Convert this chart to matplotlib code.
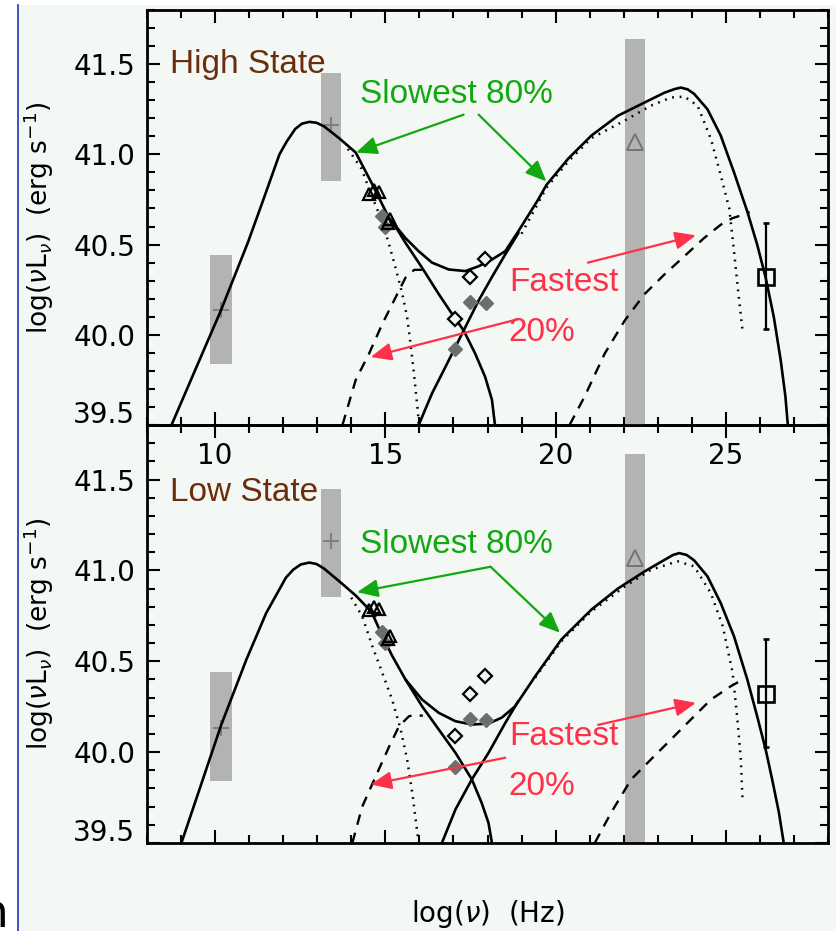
import matplotlib
matplotlib.use('Agg')
import matplotlib.pyplot as plt
from matplotlib.patches import Rectangle
from matplotlib.lines import Line2D
from matplotlib.ticker import MultipleLocator, FormatStrFormatter

plt.rcParams['mathtext.fontset'] = 'dejavusans'
plt.rcParams['font.family'] = ['DejaVu Sans']

# ---------------- data ----------------
# High state curves
top_total_x = [8.72, 9.45, 10.16, 10.96, 11.40, 11.89, 12.10, 12.35, 12.55, 12.77, 12.98, 13.20, 13.64, 14.13,
               14.60, 15.10, 15.59, 15.98, 16.37, 16.86, 17.35, 17.74, 18.13, 18.52, 18.91, 19.49, 19.73,
               20.37, 21.05, 21.83, 22.61, 23.20, 23.50, 23.68, 23.88, 24.07, 24.46, 24.85, 25.24, 25.63, 25.92,
               26.17, 26.41, 26.61, 26.75, 26.82]
top_total_y = [39.50, 39.82, 40.13, 40.51, 40.74, 41.00, 41.07, 41.14, 41.17, 41.18, 41.175, 41.155, 41.09, 41.01,
               40.84, 40.65, 40.536, 40.463, 40.40, 40.362, 40.353, 40.38, 40.417, 40.463, 40.575, 40.75, 40.83,
               40.976, 41.104, 41.214, 41.287, 41.342, 41.362, 41.37, 41.36, 41.335, 41.25, 41.104, 40.90, 40.683,
               40.50, 40.316, 40.097, 39.86, 39.657, 39.50]
top_sync_tail_x = [15.20, 15.59, 16.08, 16.57, 16.96, 17.30, 17.64, 17.93, 18.13, 18.22]
top_sync_tail_y = [40.63, 40.51, 40.371, 40.225, 40.115, 40.024, 39.895, 39.767, 39.64, 39.50]
top_ic_rise_x = [15.98, 16.37, 16.76, 17.30, 17.74, 18.13, 18.52, 18.91]
top_ic_rise_y = [39.50, 39.675, 39.82, 40.024, 40.19, 40.32, 40.445, 40.565]
top_dot_sync_x = [13.90, 14.30, 14.62, 14.91, 15.11, 15.30, 15.50, 15.64, 15.74, 15.84, 15.96, 15.98]
top_dot_sync_y = [41.03, 40.92, 40.76, 40.628, 40.50, 40.371, 40.225, 40.097, 39.95, 39.785, 39.565, 39.50]
top_dot_ic_x = [19.00, 19.73, 20.37, 21.05, 22.03, 22.80, 23.39, 23.78, 24.17, 24.56, 24.85, 25.10,
                25.24, 25.36, 25.49]
top_dot_ic_y = [40.56, 40.815, 40.96, 41.09, 41.187, 41.27, 41.315, 41.32, 41.27, 41.086, 40.884, 40.70,
                40.463, 40.243, 40.024]
top_dash_sync_x = [13.74, 14.13, 14.52, 14.91, 15.30, 15.59, 15.85, 16.10]
top_dash_sync_y = [39.50, 39.75, 39.895, 40.06, 40.207, 40.316, 40.36, 40.36]
top_dash_ic_x = [20.41, 20.85, 21.44, 22.03, 22.61, 23.20, 23.78, 24.36, 24.85, 25.19, 25.50, 25.70]
top_dash_ic_y = [39.50, 39.657, 39.895, 40.079, 40.225, 40.335, 40.435, 40.536, 40.61, 40.646, 40.665, 40.68]

# Low state curves
bot_total_x = [9.01, 10.18, 10.92, 11.50, 12.08, 12.30, 12.52, 12.77, 12.98, 13.20, 13.71, 14.14, 14.60, 14.91,
               15.20, 15.59, 16.08, 16.57, 17.06, 17.54, 18.03, 18.42, 18.81, 19.40, 20.17, 21.05, 21.83, 22.61,
               23.20, 23.45, 23.63, 23.85, 24.07, 24.46, 24.85, 25.24, 25.63, 25.92, 26.17, 26.36, 26.56, 26.70]
bot_total_y = [39.50, 40.15, 40.51, 40.765, 40.96, 41.005, 41.033, 41.043, 41.035, 41.01, 40.93, 40.86, 40.77,
               40.64, 40.53, 40.40, 40.289, 40.216, 40.17, 40.152, 40.157, 40.19, 40.252, 40.417, 40.62, 40.784,
               40.90, 40.994, 41.058, 41.085, 41.095, 41.085, 41.055, 40.967, 40.82, 40.637, 40.40, 40.197,
               40.014, 39.85, 39.666, 39.50]
bot_sync_tail_x = [15.59, 16.08, 16.57, 17.06, 17.54, 17.83, 18.03, 18.13]
bot_sync_tail_y = [40.40, 40.252, 40.124, 39.996, 39.85, 39.72, 39.61, 39.50]
bot_ic_rise_x = [16.66, 17.06, 17.54, 18.03, 18.52, 18.90]
bot_ic_rise_y = [39.50, 39.685, 39.85, 39.996, 40.16, 40.28]
bot_dot_sync_x = [14.00, 14.32, 14.62, 14.91, 15.20, 15.45, 15.64, 15.79, 15.94, 15.97]
bot_dot_sync_y = [40.85, 40.747, 40.582, 40.436, 40.289, 40.124, 39.96, 39.776, 39.557, 39.50]
bot_dot_ic_x = [19.40, 20.17, 21.05, 22.03, 22.80, 23.58, 24.07, 24.56, 24.91, 25.20, 25.34, 25.44, 25.49]
bot_dot_ic_y = [40.41, 40.61, 40.774, 40.911, 41.003, 41.05, 41.022, 40.875, 40.692, 40.436, 40.179, 39.96, 39.74]
bot_dash_sync_x = [14.03, 14.32, 14.72, 15.11, 15.40, 15.69, 15.85, 16.10]
bot_dash_sync_y = [39.50, 39.70, 39.868, 40.03, 40.142, 40.197, 40.205, 40.20]
bot_dash_ic_x = [21.15, 21.63, 22.22, 22.80, 23.39, 23.97, 24.56, 25.14, 25.50]
bot_dash_ic_y = [39.50, 39.667, 39.85, 39.96, 40.07, 40.179, 40.289, 40.362, 40.40]

# observed data (same in both panels)
tri_x = [14.52, 14.68, 14.81, 15.08, 15.13]
tri_y = [40.78, 40.80, 40.79, 40.62, 40.64]
gdia_opt_x = [14.90, 14.99]
gdia_opt_y = [40.66, 40.60]
odia_x = [17.06, 17.50, 17.94]
odia_y = [40.09, 40.32, 40.42]
gdia_x = [17.06, 17.50, 17.95]
gdia_y = [39.92, 40.18, 40.175]
sq_x = [26.17]
sq_y = [40.32]
sq_lo = [40.03]
sq_hi = [40.62]
# grey bands (x0, x1, y0, y1) and their central markers
band_x0 = [9.84, 13.12, 22.04]
band_x1 = [10.49, 13.70, 22.62]
band_y0 = [39.84, 40.855, 39.50]
band_y1 = [40.44, 41.45, 41.64]
plus_x = [10.16, 13.41]
plus_y = [40.135, 41.16]
gtri_x = [22.33]
gtri_y = [41.07]

x_ticks = [10, 15, 20, 25]
y_ticks = [39.5, 40.0, 40.5, 41.0, 41.5]

# annotations (data coordinates)
top_state = ('High State', 8.67, 41.50)
bot_state = ('Low State', 8.67, 41.43)
top_slow_txt = (17.09, 41.33)
bot_slow_txt = (17.09, 41.14)
top_fast_txt = (20.25, 40.29)
top_20_txt = (19.59, 40.015)
bot_fast_txt = (20.25, 40.086)
bot_20_txt = (19.59, 39.81)
top_green = [((17.30, 41.22), (14.14, 41.01)), ((17.74, 41.22), (19.73, 40.85))]
bot_green = [((18.09, 41.02), (14.17, 40.88)), ((18.09, 41.02), (20.13, 40.657))]
top_red = [((20.95, 40.40), (24.12, 40.551)), ((18.91, 40.087), (14.57, 39.877))]
bot_red = [((21.25, 40.15), (24.12, 40.271)), ((18.52, 39.969), (14.57, 39.822))]

# ---------------- figure ----------------
W, H = 836, 931
BG = '#f4f8f4'
GREEN = '#12a812'
RED = '#ff3049'
BROWN = '#6a2e0e'
LW = 1.9

fig = plt.figure(figsize=(W / 100, H / 100), dpi=100)
fig.patch.set_facecolor('white')
fig.add_artist(Rectangle((18 / W, 0), 1, (H - 5) / H, transform=fig.transFigure,
                         facecolor=BG, edgecolor='none', zorder=-10))
fig.add_artist(Line2D([17.5 / W, 17.5 / W], [0, (H - 5) / H], transform=fig.transFigure,
                      color='#2233aa', lw=1.2))
fig.text(9 / W, -6 / H, 'n', fontsize=34, ha='right', va='bottom')

ax_top = fig.add_axes([147 / W, (H - 425) / H, 681 / W, 415 / H])
ax_bot = fig.add_axes([147 / W, (H - 843) / H, 681 / W, 418 / H])
ax_top.set_zorder(3)

TXT = dict(family=['Liberation Sans', 'DejaVu Sans'], fontsize=24)


def style(ax, xlabels):
    ax.set_facecolor('none')
    ax.set_xlim(8, 28)
    ax.set_ylim(39.5, 41.8)
    ax.set_xticks(x_ticks)
    ax.xaxis.set_minor_locator(MultipleLocator(1))
    ax.yaxis.set_minor_locator(MultipleLocator(0.1))
    ax.set_yticks(y_ticks)
    ax.set_yticklabels([''] + ['%.1f' % v for v in y_ticks[1:]])
    ax.xaxis.set_major_formatter(FormatStrFormatter('%d'))
    ax.tick_params(which='both', direction='in', top=True, right=True, width=1.5, colors='black')
    ax.tick_params(which='major', length=9.5)
    ax.tick_params(which='minor', length=5.5)
    ax.tick_params(axis='y', labelsize=20, pad=8.5)
    ax.tick_params(axis='x', labelsize=20, pad=12.5, labelbottom=xlabels)
    for s in ax.spines.values():
        s.set_linewidth(2.0)
    ax.annotate('%.1f' % y_ticks[0], xy=(0, y_ticks[0]), xycoords=('axes fraction', 'data'),
                xytext=(-12, 10), textcoords='offset pixels', ha='right', va='center', fontsize=20)
    ax.set_ylabel(r'log($\nu$L$_\nu$)  (erg s$^{-1}$)', fontsize=19)
    ax.yaxis.set_label_coords(-(147 - 56) / 681, 0.5)


def common(ax):
    for x0, x1, y0, y1 in zip(band_x0, band_x1, band_y0, band_y1):
        ax.bar(x0, y1 - y0, width=x1 - x0, bottom=y0, align='edge', color='#b3b3b3', zorder=1, lw=0)
    ax.plot(plus_x, plus_y, '+', color='#7a7a7a', ms=11, mew=1.3, zorder=2)
    ax.plot(gtri_x, gtri_y, '^', mfc='none', mec='#707070', ms=11, mew=1.3, zorder=2)
    ax.plot(tri_x, tri_y, '^', mfc='none', mec='black', ms=9, mew=1.6, zorder=5)
    ax.plot(gdia_opt_x, gdia_opt_y, 'D', color='#6e6e6e', ms=7, zorder=4)
    ax.plot(gdia_x, gdia_y, 'D', color='#6e6e6e', ms=7.5, zorder=4)
    ax.plot(odia_x, odia_y, 'D', mfc=BG, mec='black', ms=7.5, mew=1.6, zorder=5)
    ax.errorbar(sq_x, sq_y, yerr=[[y - l for y, l in zip(sq_y, sq_lo)], [h - y for y, h in zip(sq_y, sq_hi)]],
                fmt='s', mfc='none', mec='black', ms=11, mew=1.9, ecolor='black', elinewidth=1.6,
                capsize=2.5, capthick=1.6, zorder=5)


def curves(ax, tot, tail, rise, dsync, dic, hsync, hic):
    kw = dict(color='black', lw=LW, zorder=3, solid_capstyle='round', solid_joinstyle='round')
    ax.plot(*tot, **kw)
    ax.plot(*tail, **kw)
    ax.plot(*rise, **kw)
    ax.plot(*dsync, color='black', lw=1.8, ls=(0, (0.7, 2.3)), zorder=3)
    ax.plot(*dic, color='black', lw=1.8, ls=(0, (0.7, 2.3)), zorder=3)
    ax.plot(*hsync, color='black', lw=1.7, ls=(0, (4.5, 3.5)), zorder=3)
    ax.plot(*hic, color='black', lw=1.7, ls=(0, (4.5, 3.5)), zorder=3)


def labels(ax, state, slow, fast, twenty, greens, reds):
    ax.text(state[1], state[2], state[0], color=BROWN, ha='left', va='center', **TXT)
    ax.text(*slow, 'Slowest 80%', color=GREEN, ha='center', va='center', **TXT)
    ax.text(*fast, 'Fastest', color=RED, ha='center', va='center', **TXT)
    ax.text(*twenty, '20%', color=RED, ha='center', va='center', **TXT)
    for (tail, tip) in greens:
        ax.annotate('', xy=tip, xytext=tail,
                    arrowprops=dict(arrowstyle='-|>,head_length=0.7,head_width=0.3', color=GREEN,
                                    lw=1.6, shrinkA=0, shrinkB=0, mutation_scale=18), zorder=6)
    for (tail, tip) in reds:
        ax.annotate('', xy=tip, xytext=tail,
                    arrowprops=dict(arrowstyle='-|>,head_length=0.7,head_width=0.3', color=RED,
                                    lw=1.6, shrinkA=0, shrinkB=0, mutation_scale=18), zorder=6)


style(ax_top, True)
style(ax_bot, False)
common(ax_top)
common(ax_bot)
curves(ax_top, (top_total_x, top_total_y), (top_sync_tail_x, top_sync_tail_y), (top_ic_rise_x, top_ic_rise_y),
       (top_dot_sync_x, top_dot_sync_y), (top_dot_ic_x, top_dot_ic_y),
       (top_dash_sync_x, top_dash_sync_y), (top_dash_ic_x, top_dash_ic_y))
curves(ax_bot, (bot_total_x, bot_total_y), (bot_sync_tail_x, bot_sync_tail_y), (bot_ic_rise_x, bot_ic_rise_y),
       (bot_dot_sync_x, bot_dot_sync_y), (bot_dot_ic_x, bot_dot_ic_y),
       (bot_dash_sync_x, bot_dash_sync_y), (bot_dash_ic_x, bot_dash_ic_y))
labels(ax_top, top_state, top_slow_txt, top_fast_txt, top_20_txt, top_green, top_red)
labels(ax_bot, bot_state, bot_slow_txt, bot_fast_txt, bot_20_txt, bot_green, bot_red)

ax_bot.set_xlabel(r'log($\nu$)  (Hz)', fontsize=20)
ax_bot.xaxis.set_label_coords(0.5, -(898 - 843) / 418)

fig.savefig('out.png', dpi=100, facecolor=fig.get_facecolor())
